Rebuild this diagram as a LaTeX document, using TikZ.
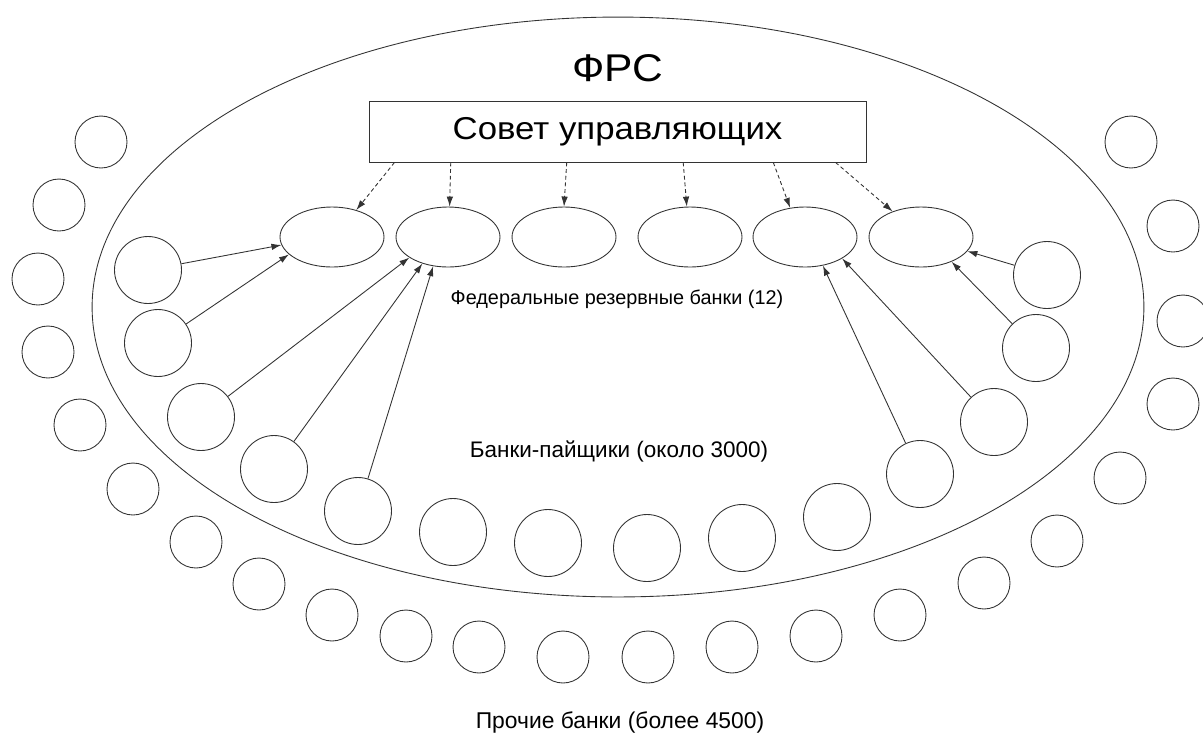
\documentclass[tikz,border=0pt]{standalone}
\usepackage{fontspec}
\setmainfont{Liberation Sans}
\newfontfamily\widefont{Liberation Sans}[FakeStretch=1.1]
\usetikzlibrary{arrows.meta,shapes.geometric,calc}

\begin{document}
\begin{tikzpicture}[x=0.02cm,y=-0.02cm,line width=0.5pt,
    fed/.style={draw=black!80,ellipse,minimum width=2.08cm,minimum height=1.2cm,inner sep=0pt},
    member/.style={draw=black!80,circle,minimum size=1.34cm,inner sep=0pt},
    other/.style={draw=black!80,circle,minimum size=1.04cm,inner sep=0pt},
    grouptext/.style={font=\fontsize{#1}{14}\selectfont},
    conn/.style={draw=black!80,-{Latex[length=2mm,width=1.3mm]}},
    ctrl/.style={conn,dash pattern=on 2.2pt off 1.6pt}]
    \useasboundingbox (0,0) rectangle (1203,735);

    % FRS
    \node[draw=black!80,ellipse,minimum width=21.04cm,minimum height=11.6cm] (frs) at (618,307) {};
    \node[font=\widefont\fontsize{22}{24}\selectfont] (title) at (618,68) {ФРС};

    % Board of governors
    \node[draw=black!80,minimum width=9.94cm,minimum height=1.22cm,
          font=\widefont\fontsize{18}{20}\selectfont] (board) at (617.5,131.5) {Совет управляющих};

    % Federal reserve banks
    \foreach \i/\x in {1/332,2/448,3/564,4/690,5/805,6/921}
        \node[fed] (fr\i) at (\x,237) {};
    \node[grouptext=11.3] (frtext) at (617,299) {Федеральные резервные банки (12)};

    % Member banks
    \foreach \x/\y [count=\i] in {148/270,158/343,201/417,274/469,358/511,453/532,548/543,
                                  647/548,742/538,837/517,920/474,994/422,1036/348,1047/275}
        \node[member] (m\i) at (\x,\y) {};
    \node[grouptext=12.8] (mtext) at (619,451) {Банки-пайщики (около 3000)};

    % Other banks
    \foreach \x/\y [count=\i] in {101/142,59/205,38/279,48/352,80/425,133/489,196/542,259/584,
                                  332/615,406/636,479/647,563/657,648/657,732/647,816/636,
                                  900/615,984/583,1057/541,1120/478,1173/404,1183/321,1173/226,1131/142}
        \node[other] (o\i) at (\x,\y) {};
    \node[grouptext=13] (otext) at (620,722) {Прочие банки (более 4500)};

    % Board -> reserve banks
    \draw[ctrl] ($(board.south west)!0.052!(board.south east)$) -- (fr1.48);
    \draw[ctrl] ($(board.south west)!0.165!(board.south east)$) -- (fr2.87);
    \draw[ctrl] ($(board.south west)!0.398!(board.south east)$) -- (fr3.north);
    \draw[ctrl] ($(board.south west)!0.632!(board.south east)$) -- (fr4.96);
    \draw[ctrl] ($(board.south west)!0.813!(board.south east)$) -- (fr5.117);
    \draw[ctrl] ($(board.south west)!0.938!(board.south east)$) -- (fr6.138);

    % Member banks -> reserve banks
    \draw[conn] (m1) -- (fr1.189);
    \draw[conn] (m2) -- (fr1.202);
    \draw[conn] (m3) -- (fr2.208);
    \draw[conn] (m4) -- (fr2.226);
    \draw[conn] (m5) -- (fr2.243);
    \draw[conn] (m11) -- (fr5.302);
    \draw[conn] (m12) -- (fr5.330);
    \draw[conn] (m13) -- (fr6.321);
    \draw[conn] (m14) -- (fr6.343);
\end{tikzpicture}
\end{document}
